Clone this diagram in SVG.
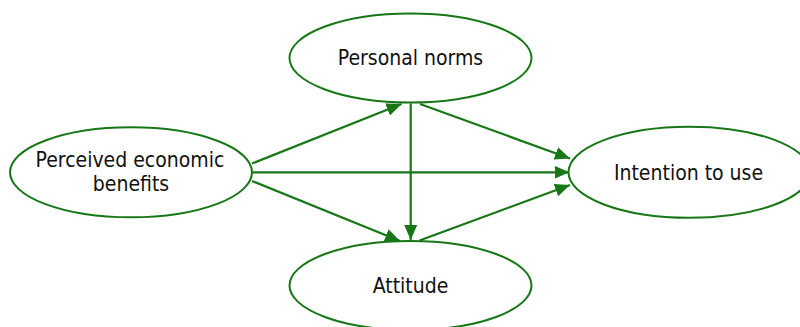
<svg xmlns="http://www.w3.org/2000/svg" width="800" height="327" viewBox="0 0 800 327">
  <style>
    .node ellipse { fill: #ffffff; stroke: #177717; stroke-width: 2; }
    .node text { font-family: "DejaVu Sans Condensed", "DejaVu Sans", sans-serif; font-stretch: condensed; font-size: 21px; fill: #111111; text-anchor: middle; }
    .edge { stroke: #177717; stroke-width: 2.2; fill: none; marker-end: url(#arrow); }
  </style>
  <defs>
    <marker id="arrow" markerUnits="userSpaceOnUse" markerWidth="16" markerHeight="14" refX="15" refY="6.5" orient="auto">
      <path d="M0,0 L15,6.5 L0,13 Z" fill="#177717"/>
    </marker>
  </defs>
  <rect width="800" height="327" fill="#ffffff"/>

  <g id="connectors">
    <line class="edge" x1="252" y1="163.5" x2="401.5" y2="104"/>
    <line class="edge" x1="252" y1="172.3" x2="569.5" y2="172.3"/>
    <line class="edge" x1="252" y1="181" x2="400" y2="241"/>
    <line class="edge" x1="410.7" y1="103.5" x2="410.7" y2="240"/>
    <line class="edge" x1="420" y1="104" x2="570" y2="158.5"/>
    <line class="edge" x1="419.5" y1="240.5" x2="570" y2="185"/>
  </g>

  <g id="personal-norms" class="node">
    <ellipse cx="410.5" cy="58" rx="121" ry="44.5"/>
    <text x="410.5" y="65">Personal norms</text>
  </g>

  <g id="perceived-economic-benefits" class="node">
    <ellipse cx="131" cy="172.3" rx="121" ry="45"/>
    <text x="130" y="166.5">Perceived economic</text>
    <text x="131" y="190.5">benefits</text>
  </g>

  <g id="intention-to-use" class="node">
    <ellipse cx="689.5" cy="172.3" rx="121" ry="45.5"/>
    <text x="688.5" y="179.5">Intention to use</text>
  </g>

  <g id="attitude" class="node">
    <ellipse cx="410.5" cy="285.5" rx="121" ry="44.5"/>
    <text x="410.5" y="292.5">Attitude</text>
  </g>
</svg>
